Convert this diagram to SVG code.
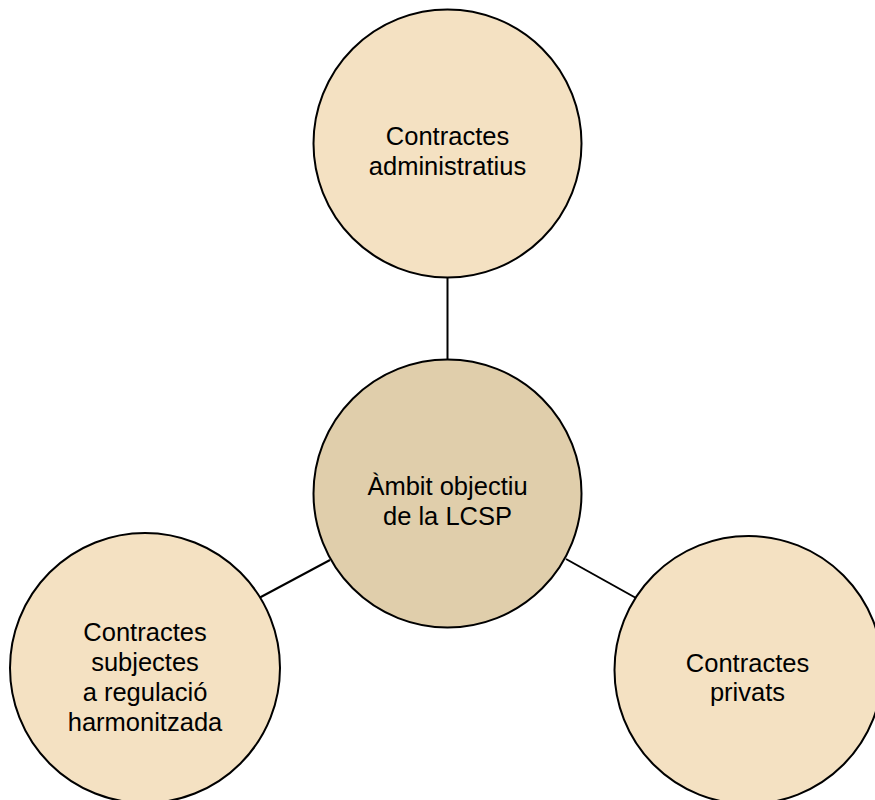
<svg xmlns="http://www.w3.org/2000/svg" width="875" height="800" viewBox="0 0 875 800">
<style>
.node circle{stroke:#000;stroke-width:2}
.outer circle{fill:#F4E1C2}
.center circle{fill:#E0CEAB}
text{font-family:"Liberation Sans",Arial,sans-serif;font-size:25.5px;fill:#000;text-anchor:middle}
.edges line{stroke:#000;stroke-width:2}
</style>
<rect width="875" height="800" fill="#fff"/>
<g class="edges" id="connectors">
<line x1="447.5" y1="277" x2="447.5" y2="360"/>
<line x1="259" y1="598" x2="330" y2="560"/>
<line x1="566" y1="559" x2="636" y2="598"/>
</g>
<g class="node outer" id="node-administratius">
<circle cx="447.5" cy="143.5" r="134"/>
<text x="447.5" y="145">Contractes</text>
<text x="447.5" y="174.5">administratius</text>
</g>
<g class="node center" id="node-ambit">
<circle cx="447.5" cy="493.5" r="134"/>
<text x="447.5" y="494.5">Àmbit objectiu</text>
<text x="447.5" y="524.5">de la LCSP</text>
</g>
<g class="node outer" id="node-harmonitzada">
<circle cx="145" cy="668" r="135"/>
<text x="145" y="640.5">Contractes</text>
<text x="145" y="670.5">subjectes</text>
<text x="145" y="700.5">a regulació</text>
<text x="145" y="730.5">harmonitzada</text>
</g>
<g class="node outer" id="node-privats">
<circle cx="748.5" cy="670" r="134"/>
<text x="747.5" y="671.5">Contractes</text>
<text x="747.5" y="701">privats</text>
</g>
</svg>
